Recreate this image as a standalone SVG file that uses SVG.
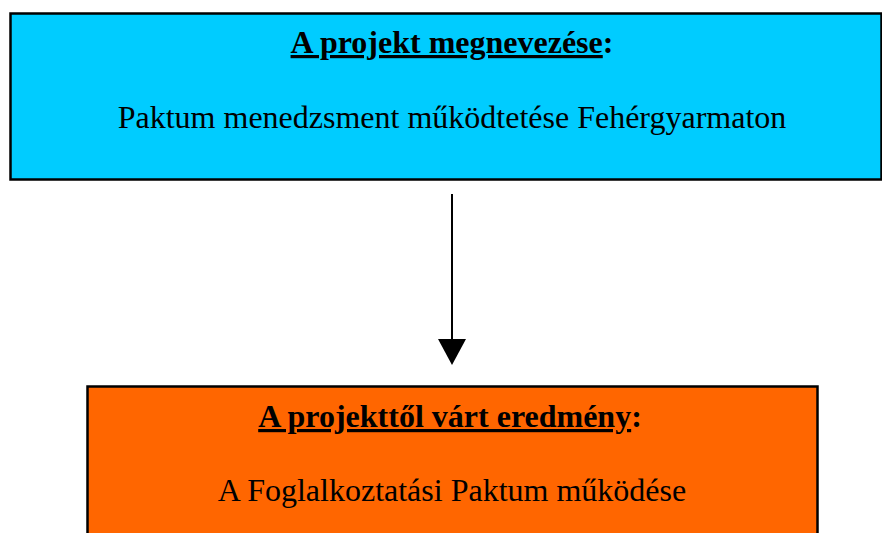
<svg xmlns="http://www.w3.org/2000/svg" width="882" height="533" viewBox="0 0 882 533">
<style>
.box{stroke:#000;stroke-width:2.5}
.t{font-family:"Liberation Serif","Times New Roman",serif;font-size:32px;fill:#000;text-anchor:middle}
.b{font-weight:bold}
.u{text-decoration:underline}
</style>
<defs>
<marker id="ah" markerWidth="26" markerHeight="28" refX="0" refY="14" markerUnits="userSpaceOnUse" orient="auto" viewBox="0 0 26 28">
<path d="M0,0 L26,14 L0,28 Z" fill="#000"/>
</marker>
</defs>
<rect width="882" height="533" fill="#fff"/>
<g id="node-projekt">
<rect class="box" x="10.5" y="13.5" width="871" height="166" fill="#00CCFF"/>
<text class="t b" x="452" y="53"><tspan class="u">A projekt megnevezése</tspan>:</text>
<text class="t" x="452" y="128">Paktum menedzsment működtetése Fehérgyarmaton</text>
</g>
<g id="node-eredmeny">
<rect class="box" x="87.5" y="386.5" width="730" height="180" fill="#FF6600"/>
<text class="t b" x="450" y="427"><tspan class="u">A projekttől várt eredmény</tspan>:</text>
<text class="t" x="452" y="501">A Foglalkoztatási Paktum működése</text>
</g>
<g id="connectors">
<line x1="452" y1="194" x2="452" y2="339" stroke="#000" stroke-width="2" marker-end="url(#ah)"/>
</g>
</svg>
